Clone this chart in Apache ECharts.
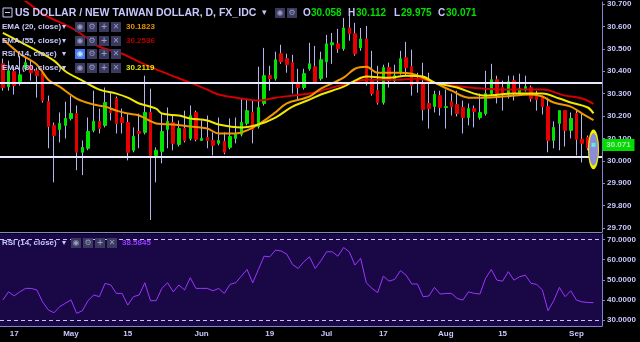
<!DOCTYPE html>
<html><head><meta charset="utf-8">
<script src="https://cdn.jsdelivr.net/npm/echarts@6/dist/echarts.min.js"></script>
<style>html,body{margin:0;padding:0;background:#000;}#c{width:640px;height:342px;}</style>
</head><body><div id="c"></div>
<script>
// ---- data ----
const dates = ['2017-04-13','2017-04-14','2017-04-17','2017-04-18','2017-04-19','2017-04-20','2017-04-21','2017-04-24','2017-04-25','2017-04-26','2017-04-27','2017-04-28',
'2017-05-01','2017-05-02','2017-05-03','2017-05-04','2017-05-05','2017-05-08','2017-05-09','2017-05-10','2017-05-11','2017-05-12','2017-05-15','2017-05-16','2017-05-17','2017-05-18','2017-05-19','2017-05-22','2017-05-23','2017-05-24','2017-05-25','2017-05-26','2017-05-29','2017-05-30','2017-05-31',
'2017-06-01','2017-06-02','2017-06-05','2017-06-06','2017-06-07','2017-06-08','2017-06-09','2017-06-12','2017-06-13','2017-06-14','2017-06-15','2017-06-16','2017-06-19','2017-06-20','2017-06-21','2017-06-22','2017-06-23','2017-06-26','2017-06-27','2017-06-28','2017-06-29','2017-06-30',
'2017-07-03','2017-07-04','2017-07-05','2017-07-06','2017-07-07','2017-07-10','2017-07-11','2017-07-12','2017-07-13','2017-07-14','2017-07-17','2017-07-18','2017-07-19','2017-07-20','2017-07-21','2017-07-24','2017-07-25','2017-07-26','2017-07-27','2017-07-28','2017-07-31',
'2017-08-01','2017-08-02','2017-08-03','2017-08-04','2017-08-07','2017-08-08','2017-08-09','2017-08-10','2017-08-11','2017-08-14','2017-08-15','2017-08-16','2017-08-17','2017-08-18','2017-08-21','2017-08-22','2017-08-23','2017-08-24','2017-08-25','2017-08-28','2017-08-29','2017-08-30','2017-08-31',
'2017-09-01','2017-09-04','2017-09-05','2017-09-06'];

const open = [30.433,30.331,30.398,30.353,30.411,30.424,30.402,30.393,30.264,30.158,30.140,30.158,30.189,30.211,30.038,30.056,30.136,30.176,30.158,30.224,
30.278,30.193,30.171,30.047,30.131,30.127,30.216,30.024,30.042,30.140,30.171,30.073,30.144,30.100,30.216,30.091,30.104,30.091,30.078,30.087,
30.060,30.100,30.118,30.167,30.216,30.153,30.256,30.380,30.367,30.478,30.456,30.438,30.349,30.327,30.411,30.420,30.367,30.442,30.518,30.522,
30.500,30.593,30.567,30.504,30.544,30.358,30.313,30.260,30.416,30.358,30.393,30.460,30.420,30.362,30.349,30.256,30.242,30.291,30.238,30.264,
30.251,30.238,30.193,30.233,30.193,30.211,30.300,30.362,30.327,30.300,30.358,30.304,30.318,30.327,30.300,30.282,30.242,30.091,30.167,30.224,
30.136,30.211,30.096,30.104,30.058];
const close = [30.327,30.402,30.336,30.384,30.438,30.393,30.380,30.269,30.153,30.113,30.167,30.189,30.211,30.038,30.060,30.131,30.176,30.144,30.260,30.216,
30.167,30.171,30.038,30.109,30.122,30.216,30.024,30.047,30.131,30.176,30.078,30.144,30.091,30.202,30.096,30.100,30.091,30.069,30.091,30.038,
30.109,30.118,30.171,30.224,30.140,30.238,30.380,30.367,30.451,30.442,30.429,30.349,30.327,30.389,30.433,30.353,30.451,30.522,30.527,30.500,
30.593,30.567,30.478,30.544,30.349,30.300,30.260,30.416,30.358,30.380,30.456,30.416,30.336,30.353,30.229,30.233,30.296,30.238,30.242,30.242,
30.211,30.193,30.233,30.220,30.216,30.300,30.362,30.300,30.296,30.353,30.300,30.322,30.331,30.278,30.273,30.242,30.091,30.149,30.224,30.136,
30.189,30.096,30.078,30.058,30.071];
const low = [30.313,30.313,30.296,30.336,30.402,30.358,30.282,30.260,30.056,29.904,30.082,30.100,30.180,29.958,29.936,30.047,30.127,30.122,30.149,30.180,
30.122,30.122,30.002,30.038,30.056,30.118,29.736,29.904,29.989,30.056,30.047,30.064,30.082,30.091,30.087,30.091,30.056,30.024,30.069,30.029,
30.051,30.078,30.109,30.158,30.078,30.144,30.247,30.313,30.358,30.433,30.393,30.300,30.273,30.318,30.402,30.344,30.358,30.371,30.433,30.482,
30.491,30.536,30.469,30.491,30.336,30.291,30.251,30.251,30.327,30.349,30.384,30.380,30.291,30.304,30.180,30.144,30.216,30.202,30.144,30.202,
30.198,30.122,30.158,30.149,30.184,30.202,30.291,30.256,30.224,30.278,30.269,30.296,30.309,30.264,30.224,30.207,30.038,30.056,30.047,30.064,
30.100,30.024,29.993,30.047,29.975];
const high = [30.456,30.447,30.420,30.469,30.460,30.447,30.416,30.402,30.291,30.171,30.216,30.264,30.291,30.247,30.091,30.193,30.313,30.233,30.327,30.304,
30.287,30.233,30.211,30.149,30.211,30.380,30.322,30.060,30.211,30.238,30.202,30.180,30.224,30.247,30.224,30.180,30.202,30.127,30.193,30.127,
30.189,30.193,30.278,30.278,30.269,30.420,30.504,30.424,30.487,30.518,30.478,30.473,30.411,30.411,30.527,30.513,30.487,30.562,30.571,30.589,
30.638,30.669,30.616,30.593,30.602,30.491,30.424,30.429,30.438,30.429,30.491,30.531,30.496,30.393,30.438,30.393,30.313,30.313,30.318,30.300,
30.313,30.269,30.256,30.247,30.300,30.402,30.433,30.380,30.358,30.380,30.380,30.389,30.380,30.336,30.313,30.291,30.282,30.176,30.224,30.224,
30.216,30.224,30.211,30.113,30.112];

// EMA lines: [candle index, value]
const ema20 = [[0,30.544],[3,30.478],[6,30.429],[8,30.362],[10,30.331],[13,30.278],[16,30.251],[18,30.242],[20,30.224],[22,30.211],[24,30.202],[27,30.167],
[30,30.162],[33,30.153],[36,30.144],[38,30.122],[41,30.122],[43,30.136],[45,30.162],[48,30.216],[50,30.256],[54,30.287],[56,30.322],[60,30.371],
[62,30.411],[64,30.420],[66,30.393],[70,30.393],[72,30.389],[74,30.371],[76,30.349],[79,30.313],[82,30.282],[85,30.282],[88,30.287],[93,30.296],
[95,30.287],[97,30.260],[100,30.242],[102,30.211],[104,30.182]];
const ema55 = [[0,30.767],[4,30.713],[7,30.656],[12,30.594],[15,30.545],[17,30.509],[21,30.478],[24,30.442],[28,30.398],[33,30.349],[36,30.318],
[38,30.296],[42,30.278],[45,30.269],[48,30.282],[54,30.300],[56,30.313],[60,30.340],[64,30.362],[69,30.362],[73,30.367],[76,30.349],[81,30.331],
[85,30.322],[90,30.318],[95,30.318],[99,30.291],[102,30.278],[104,30.254]];
const ema80 = [[0,30.571],[6,30.491],[9,30.447],[11,30.400],[14,30.358],[17,30.318],[20,30.300],[22,30.282],[24,30.256],[27,30.233],[28,30.211],
[31,30.202],[33,30.189],[36,30.180],[38,30.162],[42,30.149],[45,30.162],[48,30.193],[51,30.242],[54,30.273],[56,30.296],[60,30.331],[62,30.358],
[64,30.376],[68,30.371],[71,30.380],[74,30.376],[76,30.349],[80,30.327],[83,30.300],[85,30.291],[90,30.300],[95,30.300],[98,30.278],[100,30.260],
[103,30.238],[104,30.212]];

const rsi = [39.9,44.0,42.0,44.0,45.7,45.7,44.9,39.0,35.0,33.6,36.6,38.3,40.0,33.3,34.6,39.6,42.4,41.6,48.2,47.4,
43.2,43.2,37.4,41.6,42.4,48.5,39.6,39.6,45.7,48.5,44.0,47.4,44.9,51.0,45.7,45.7,45.7,44.5,45.7,43.2,
47.7,48.5,51.8,55.1,48.5,55.1,61.7,61.4,64.7,64.3,62.7,57.6,55.6,58.9,61.4,55.6,59.4,63.9,63.9,61.7,
66.0,63.9,57.3,60.6,48.5,45.7,43.6,51.8,49.3,50.2,54.5,52.3,47.9,47.9,41.6,41.9,46.2,42.9,43.2,43.2,
40.7,39.9,44.0,43.2,42.9,50.7,55.1,49.8,49.3,54.0,49.8,51.5,52.3,48.2,47.7,44.9,34.6,39.6,46.2,41.6,
44.5,39.9,39.0,38.7,38.6];

const levelLines = [30.346, 30.021];
const rsiBands = [70, 30];
const xTickLabels = [['2017-04-17','17'],['2017-05-01','May'],['2017-05-15','15'],['2017-06-01','Jun'],['2017-06-19','19'],
['2017-07-03','Jul'],['2017-07-17','17'],['2017-08-01','Aug'],['2017-08-15','15'],['2017-09-01','Sep']];
const quote = {O:'30.058', H:'30.112', L:'29.975', C:'30.071'};
const legendVals = {ema20:'30.1823', ema55:'30.2536', rsi:'38.5845', ema80:'30.2119'};
const lastClose = 30.071;

// ---- build ----
const cats = dates.concat(['pad']);
const labelMap = {}; xTickLabels.forEach(p => labelMap[p[0]] = p[1]);
const wickData = dates.map((d,i) => [open[i], close[i], low[i], high[i]]);
const bodyData = dates.map((d,i) => [open[i], close[i], Math.min(open[i],close[i]), Math.max(open[i],close[i])]);

const LAV = '#c8c8ff', AX = '#8484d0';
const F = (s, w) => (w||'bold') + ' ' + s + 'px "Liberation Sans", Arial, sans-serif';
const G = [];
function txt(x, y, t, fill, font){ G.push({type:'text', x:x, y:y, z:100, silent:true, style:{text:t, fill:fill, font:font, align:'left', verticalAlign:'middle'}}); }
function icons(x0, y, glyphs, blueFirst){
  glyphs.forEach((g,i) => {
    const x = x0 + i*12;
    G.push({type:'rect', x:x, y:y-5, z:100, silent:true, shape:{x:0,y:0,width:10,height:10}, style:{fill:(blueFirst&&i===0)?'#3d7ef5':'#3a3a5e'}});
    G.push({type:'text', x:x+5, y:y, z:101, silent:true, style:{text:g, fill:(blueFirst&&i===0)?'#cfe0ff':'#9a9ac4', font:'bold 8px "DejaVu Sans", sans-serif', align:'center', verticalAlign:'middle'}});
  });
}
// title row
G.push({type:'rect', x:3, y:8, z:100, silent:true, shape:{x:0,y:0,width:9,height:9}, style:{fill:'none', stroke:LAV, lineWidth:1}});
G.push({type:'line', x:0, y:0, z:100, silent:true, shape:{x1:5,y1:12.5,x2:10,y2:12.5}, style:{stroke:LAV, lineWidth:1}});
txt(15, 13, 'US DOLLAR / NEW TAIWAN DOLLAR, D, FX_IDC', LAV, F(10.5));
txt(262, 13, '▾', LAV, '9px "DejaVu Sans", sans-serif');
icons(275, 13, ['◉','⚙'], false);
txt(303, 13, 'O', LAV, F(10)); txt(311, 13, quote.O, '#00e000', F(10));
txt(348, 13, 'H', LAV, F(10)); txt(356, 13, quote.H, '#00e000', F(10));
txt(394, 13, 'L', LAV, F(10)); txt(401, 13, quote.L, '#00e000', F(10));
txt(438, 13, 'C', LAV, F(10)); txt(446, 13, quote.C, '#00e000', F(10));
// indicator rows
const rows = [['EMA (20, close)', legendVals.ema20, '#e89400', 27, false],
              ['EMA (55, close)', legendVals.ema55, '#b40000', 41, false],
              ['RSI (14, close)', '', '', 54, true],
              ['EMA (80, close)', legendVals.ema80, '#e8e800', 68, false]];
rows.forEach(r => {
  txt(2, r[3], r[0], LAV, F(8));
  txt(62, r[3], '▾', LAV, '8px "DejaVu Sans", sans-serif');
  icons(75, r[3], ['◉','⚙','+','✕'], r[4]);
  if (r[1]) txt(126, r[3], r[1], r[2], F(8));
});
// RSI pane legend
txt(2, 243, 'RSI (14, close)', LAV, F(8));
txt(62, 243, '▾', LAV, '8px "DejaVu Sans", sans-serif');
icons(71, 243, ['◉','⚙','+','✕'], false);
txt(122, 243, legendVals.rsi, '#9a3cff', F(8));

const ellipsePath = 'path://M0,-1 A1,1 0 1,1 0,1 A1,1 0 1,1 0,-1 Z';

const option = {
  backgroundColor: '#000000',
  animation: false,
  graphic: G,
  grid: [
    {left:-2, top:1, width:604, height:231, show:false},
    {left:-2, top:234, width:604, height:92, show:true, backgroundColor:'#1a0846', borderWidth:0}
  ],
  xAxis: [
    {type:'category', gridIndex:0, data:cats, boundaryGap:true,
     axisLine:{show:true, lineStyle:{color:AX, width:1}}, axisTick:{show:false}, axisLabel:{show:false}, splitLine:{show:false}},
    {type:'category', gridIndex:1, data:cats, boundaryGap:true,
     axisLine:{show:true, lineStyle:{color:AX, width:1}}, axisTick:{show:false}, splitLine:{show:false},
     axisLabel:{show:true, interval:(i, v) => labelMap[v] !== undefined, formatter:v => labelMap[v] || '',
       color:LAV, fontSize:8, fontWeight:'bold', fontFamily:'"Liberation Sans", Arial, sans-serif', margin:4}}
  ],
  yAxis: [
    {type:'value', gridIndex:0, position:'right', min:29.6822, max:30.7089, splitNumber:10, minInterval:0.1, maxInterval:0.1,
     axisLine:{show:true, lineStyle:{color:AX}}, axisTick:{show:true, length:3, lineStyle:{color:AX}},
     splitLine:{show:false},
     axisLabel:{show:true, showMinLabel:false, showMaxLabel:false, formatter:v => v.toFixed(3), color:LAV, fontSize:8, fontWeight:'bold',
       fontFamily:'"Liberation Sans", Arial, sans-serif', margin:5}},
    {type:'value', gridIndex:1, position:'right', min:27.019, max:72.733, splitNumber:4, minInterval:10, maxInterval:10,
     axisLine:{show:true, lineStyle:{color:AX}}, axisTick:{show:true, length:3, lineStyle:{color:AX}},
     splitLine:{show:false},
     axisLabel:{show:true, showMinLabel:false, showMaxLabel:false, formatter:v => v.toFixed(4), color:LAV, fontSize:8, fontWeight:'bold',
       fontFamily:'"Liberation Sans", Arial, sans-serif', margin:5}}
  ],
  series: [
    {name:'wicks', type:'candlestick', xAxisIndex:0, yAxisIndex:0, data:wickData, barWidth:1, silent:true,
     itemStyle:{color:'#b4b4ee', color0:'#b4b4ee', borderColor:'#b4b4ee', borderColor0:'#b4b4ee', borderWidth:1}},
    {name:'bodies', type:'candlestick', xAxisIndex:0, yAxisIndex:0, data:bodyData, barWidth:3, silent:true,
     itemStyle:{color:'#00e400', color0:'#e60000', borderColor:'#00e400', borderColor0:'#e60000', borderWidth:1}},
    {name:'EMA 55', type:'line', xAxisIndex:0, yAxisIndex:0, data:ema55, smooth:0.35, showSymbol:false, silent:true,
     lineStyle:{color:'#d20000', width:2}},
    {name:'EMA 20', type:'line', xAxisIndex:0, yAxisIndex:0, data:ema20, smooth:0.35, showSymbol:false, silent:true,
     lineStyle:{color:'#f09600', width:2}},
    {name:'EMA 80', type:'line', xAxisIndex:0, yAxisIndex:0, data:ema80, smooth:0.35, showSymbol:false, silent:true,
     lineStyle:{color:'#f0e800', width:2},
     markLine:{silent:true, symbol:'none', label:{show:false}, lineStyle:{color:'#e8e8ff', width:2, type:'solid'},
       data: levelLines.map(v => ({yAxis:v}))},
     markPoint:{silent:true, data:[
       {coord:[dates[dates.length-1], 30.051], symbol:ellipsePath, symbolSize:[10,36], label:{show:false},
        itemStyle:{color:'#8c8cd8', borderColor:'#f0f000', borderWidth:2}},
       {coord:[dates[dates.length-1], lastClose], symbol:'rect', symbolSize:4, label:{show:false}, itemStyle:{color:'#66e6e6'}},
       {coord:[dates[dates.length-1], lastClose], symbol:'rect', symbolSize:[32,12], symbolOffset:[25,0],
        itemStyle:{color:'#00dc00'},
        label:{show:true, position:'inside', formatter:lastClose.toFixed(3), color:'#b8e0b8', fontSize:8, fontWeight:'bold',
          fontFamily:'"Liberation Sans", Arial, sans-serif'}}
     ]}},
    {name:'RSI', type:'line', xAxisIndex:1, yAxisIndex:1, data:rsi, showSymbol:false, silent:true,
     lineStyle:{color:'#9a36ff', width:1},
     markLine:{silent:true, symbol:'none', label:{show:false}, lineStyle:{color:'#c4c4f4', width:1, type:[4,3]},
       data: rsiBands.map(v => ({yAxis:v}))}}
  ]
};
const chart = echarts.init(document.getElementById('c'), null, {renderer:'canvas'});
chart.setOption(option);
</script>
</body></html>
